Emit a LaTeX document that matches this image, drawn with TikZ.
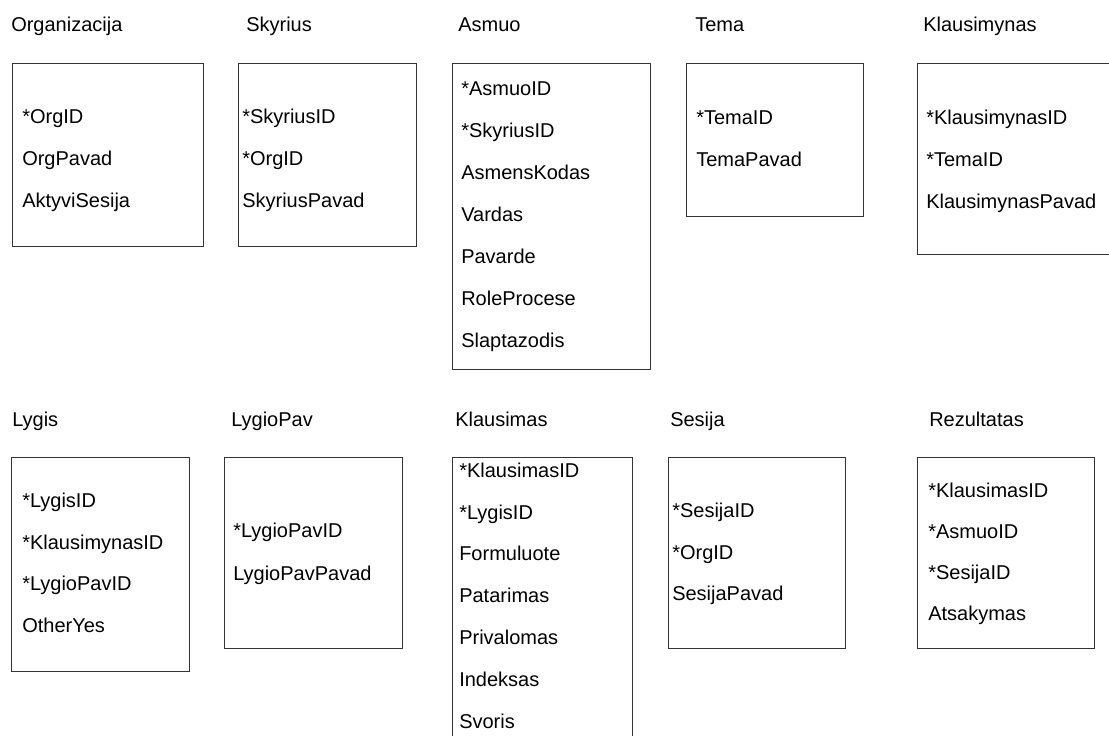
\documentclass[tikz,border=0pt]{standalone}
\usepackage{fontspec}
\setmainfont{Liberation Sans}
\begin{document}
\begin{tikzpicture}[x=0.75pt, y=-0.75pt,
  entity/.style={draw=black!80, line width=0.8pt, rectangle, inner sep=0pt, anchor=north west},
  title/.style={anchor=base west, inner sep=0pt, font=\fontsize{15}{18}\selectfont},
  attr/.style={title}]
\useasboundingbox (0,0) rectangle (1109,735);
\clip (0,0) rectangle (1109,735);

% ---------- first row of tables ----------
\node[title] (t-org) at (11,32) {Organizacija};
\node[entity, minimum width=191*0.75pt, minimum height=183*0.75pt] (org) at (12,63) {};
\node[attr] (org-1) at (22,123) {*OrgID};
\node[attr] (org-2) at (22,165) {OrgPavad};
\node[attr] (org-3) at (22,207) {AktyviSesija};

\node[title] (t-sky) at (246,32) {Skyrius};
\node[entity, minimum width=178*0.75pt, minimum height=183*0.75pt] (sky) at (238,63) {};
\node[attr] (sky-1) at (242,123) {*SkyriusID};
\node[attr] (sky-2) at (242,165) {*OrgID};
\node[attr] (sky-3) at (242,207) {SkyriusPavad};

\node[title] (t-asm) at (458,32) {Asmuo};
\node[entity, minimum width=198*0.75pt, minimum height=306*0.75pt] (asm) at (452,63) {};
\node[attr] (asm-1) at (461,95) {*AsmuoID};
\node[attr] (asm-2) at (461,137) {*SkyriusID};
\node[attr] (asm-3) at (461,179) {AsmensKodas};
\node[attr] (asm-4) at (461,221) {Vardas};
\node[attr] (asm-5) at (461,263) {Pavarde};
\node[attr] (asm-6) at (461,305) {RoleProcese};
\node[attr] (asm-7) at (461,347) {Slaptazodis};

\node[title] (t-tem) at (695,32) {Tema};
\node[entity, minimum width=177*0.75pt, minimum height=153*0.75pt] (tem) at (686,63) {};
\node[attr] (tem-1) at (696,124) {*TemaID};
\node[attr] (tem-2) at (696,166) {TemaPavad};

\node[title] (t-kln) at (923,32) {Klausimynas};
\node[entity, minimum width=203*0.75pt, minimum height=191*0.75pt] (kln) at (917,63) {};
\node[attr] (kln-1) at (926,124) {*KlausimynasID};
\node[attr] (kln-2) at (926,166) {*TemaID};
\node[attr] (kln-3) at (926,208) {KlausimynasPavad};

% ---------- second row of tables ----------
\node[title] (t-lyg) at (12,426) {Lygis};
\node[entity, minimum width=178*0.75pt, minimum height=214*0.75pt] (lyg) at (11,457) {};
\node[attr] (lyg-1) at (22,507) {*LygisID};
\node[attr] (lyg-2) at (22,549) {*KlausimynasID};
\node[attr] (lyg-3) at (22,590) {*LygioPavID};
\node[attr] (lyg-4) at (22,632) {OtherYes};

\node[title] (t-lpv) at (231,426) {LygioPav};
\node[entity, minimum width=178*0.75pt, minimum height=191*0.75pt] (lpv) at (224,457) {};
\node[attr] (lpv-1) at (233,537) {*LygioPavID};
\node[attr] (lpv-2) at (233,580) {LygioPavPavad};

\node[title] (t-kls) at (455,426) {Klausimas};
\node[entity, minimum width=180*0.75pt, minimum height=290*0.75pt] (kls) at (452,457) {};
\node[attr] (kls-1) at (459,477) {*KlausimasID};
\node[attr] (kls-2) at (459,519) {*LygisID};
\node[attr] (kls-3) at (459,560) {Formuluote};
\node[attr] (kls-4) at (459,602) {Patarimas};
\node[attr] (kls-5) at (459,644) {Privalomas};
\node[attr] (kls-6) at (459,686) {Indeksas};
\node[attr] (kls-7) at (459,728) {Svoris};

\node[title] (t-ses) at (670,426) {Sesija};
\node[entity, minimum width=177*0.75pt, minimum height=191*0.75pt] (ses) at (668,457) {};
\node[attr] (ses-1) at (672,517) {*SesijaID};
\node[attr] (ses-2) at (672,559) {*OrgID};
\node[attr] (ses-3) at (672,600) {SesijaPavad};

\node[title] (t-rez) at (929,426) {Rezultatas};
\node[entity, minimum width=177*0.75pt, minimum height=191*0.75pt] (rez) at (917,457) {};
\node[attr] (rez-1) at (928,497) {*KlausimasID};
\node[attr] (rez-2) at (928,538) {*AsmuoID};
\node[attr] (rez-3) at (928,579) {*SesijaID};
\node[attr] (rez-4) at (928,620) {Atsakymas};
\end{tikzpicture}
\end{document}
